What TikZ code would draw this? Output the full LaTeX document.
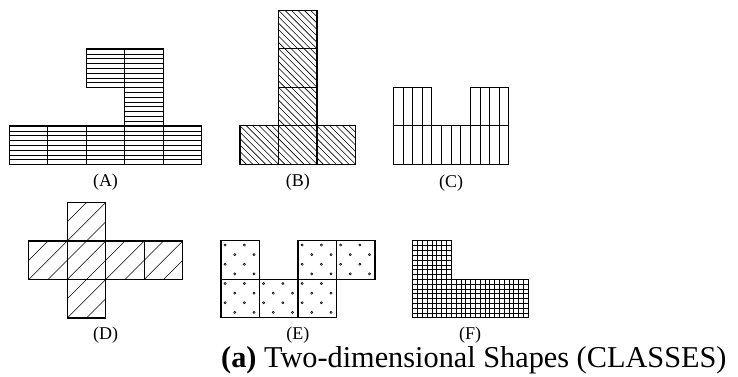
\documentclass[tikz,border=0pt]{standalone}
\usepackage{fontspec}
\setmainfont{Liberation Serif}
\begin{document}
\begin{tikzpicture}[x=1pt,y=-1pt]
\useasboundingbox (0,0) rectangle (738,376);
\def\c{38.5}
\tikzset{
  cellbox/.style={draw=black,line width=1.2pt},
  hatch/.style={draw=black,line width=0.6pt},
  dotmark/.style={draw=black,line width=0.55pt},
  lab/.style={inner sep=0pt,font=\fontsize{18}{18}\selectfont},
  captext/.style={inner sep=0pt,anchor=base west,font=\fontsize{30.3}{30.3}\selectfont}
}
% ---------- (A) horizontal lines ----------
\begin{scope}[shift={(9.3,49)}]
  \foreach \i/\j in {2/0,3/0,3/1,0/2,1/2,2/2,3/2,4/2}{
    \foreach \k in {1,...,7} \draw[hatch] (\i*\c,\j*\c+\k*\c/8) -- ++(\c,0);
  }
  \foreach \i/\j in {2/0,3/0,3/1,0/2,1/2,2/2,3/2,4/2}
    \draw[cellbox] (\i*\c,\j*\c) rectangle ++(\c,\c);
\end{scope}
% ---------- (B) diagonal lines ----------
\begin{scope}[shift={(240,10.3)}]
  \begin{scope}
    \clip (\c,0) rectangle ++(\c,3*\c) (0,3*\c) rectangle ++(3*\c,\c);
    \foreach \k in {-30,...,20} \draw[hatch] (\k*\c/6,0) -- ++(4*\c,4*\c);
  \end{scope}
  \foreach \i/\j in {1/0,1/1,1/2,0/3,1/3,2/3}
    \draw[cellbox] (\i*\c,\j*\c) rectangle ++(\c,\c);
\end{scope}
% ---------- (C) vertical lines ----------
\begin{scope}[shift={(393.3,87.3)}]
  \foreach \i/\j in {0/0,2/0,0/1,1/1,2/1}{
    \foreach \k in {1,...,3} \draw[hatch] (\i*\c+\k*\c/4,\j*\c) -- ++(0,\c);
  }
  \foreach \i/\j in {0/0,2/0,0/1,1/1,2/1}
    \draw[cellbox] (\i*\c,\j*\c) rectangle ++(\c,\c);
\end{scope}
% ---------- (D) diagonal lines ----------
\begin{scope}[shift={(28.7,202.5)}]
  \begin{scope}
    \clip (\c,0) rectangle ++(\c,3*\c) (0,\c) rectangle ++(4*\c,\c);
    \foreach \k in {-8,...,10} \draw[hatch] (\k*\c/2,3*\c) -- ++(4*\c,-4*\c);
  \end{scope}
  \foreach \i/\j in {1/0,0/1,1/1,2/1,3/1,1/2}
    \draw[cellbox] (\i*\c,\j*\c) rectangle ++(\c,\c);
\end{scope}
% ---------- (E) dots ----------
\begin{scope}[shift={(221,240.8)}]
  \foreach \i/\j in {0/0,2/0,3/0,0/1,1/1,2/1}{
    \foreach \m in {0,1}{
      \foreach \n in {0,1}{
        \draw[dotmark] (\i*\c+4.2+\m*\c/2,\j*\c+4.2+\n*\c/2) circle[radius=1.1];
        \draw[dotmark] (\i*\c+4.2+\c/4+\m*\c/2,\j*\c+4.2+\c/4+\n*\c/2) circle[radius=1.1];
      }
    }
  }
  \foreach \i/\j in {0/0,2/0,3/0,0/1,1/1,2/1}
    \draw[cellbox] (\i*\c,\j*\c) rectangle ++(\c,\c);
\end{scope}
% ---------- (F) grid ----------
\begin{scope}[shift={(412.7,240.8)}]
  \foreach \i/\j in {0/0,0/1,1/1,2/1}{
    \foreach \k in {1,...,7}{
      \draw[hatch] (\i*\c,\j*\c+\k*\c/8) -- ++(\c,0);
      \draw[hatch] (\i*\c+\k*\c/8,\j*\c) -- ++(0,\c);
    }
  }
  \foreach \i/\j in {0/0,0/1,1/1,2/1}
    \draw[cellbox] (\i*\c,\j*\c) rectangle ++(\c,\c);
\end{scope}
% ---------- labels ----------
\node[lab] (la) at (105.5,182.5) {(A)};
\node[lab] (lb) at (297.8,182.5) {(B)};
\node[lab] (lc) at (451,183) {(C)};
\node[lab] (ld) at (105.7,335.5) {(D)};
\node[lab] (le) at (297.8,335.5) {(E)};
\node[lab] (lf) at (470,335) {(F)};
\node[captext] (caption) at (221,367) {\textbf{(a)} Two-dimensional Shapes (CLASSES)};
\end{tikzpicture}
\end{document}
